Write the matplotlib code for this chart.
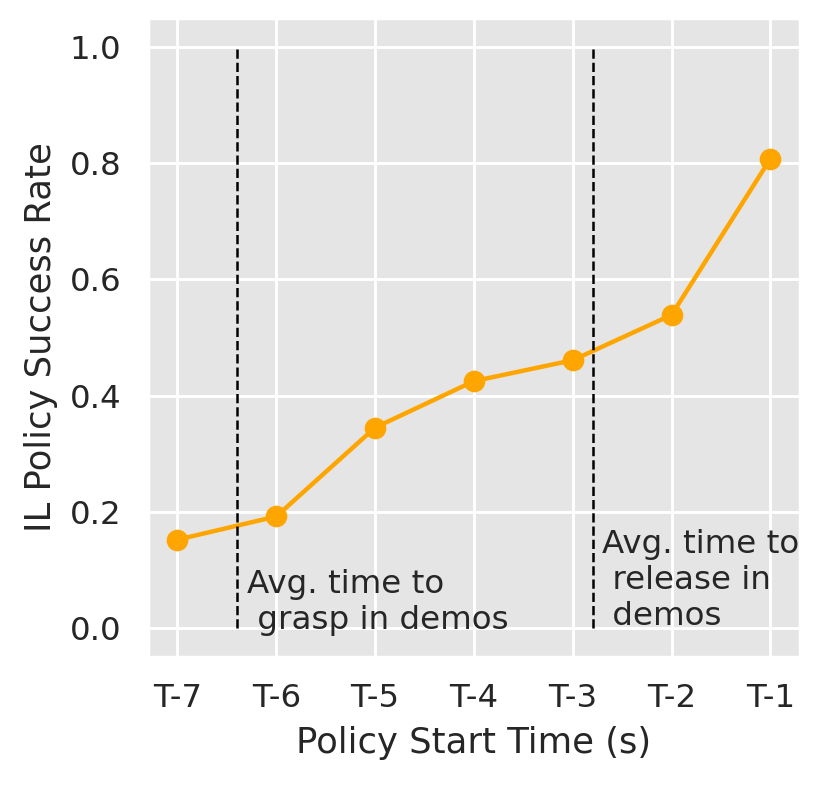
import matplotlib
matplotlib.use("Agg")
import matplotlib.pyplot as plt
import seaborn as sns

# policy start offsets and measured success rates
labels = ["T-7", "T-6", "T-5", "T-4", "T-3", "T-2", "T-1"]
success = [0.152, 0.192, 0.345, 0.425, 0.461, 0.539, 0.808]

# average event times in demos (in tick-index units)
grasp_time = 0.6
release_time = 4.2

sns.set_theme(context="notebook", style="darkgrid", font_scale=1.06)
plt.rcParams["font.family"] = ["DejaVu Sans"]

fig = plt.figure(figsize=(4.15, 3.925), dpi=200)
ax = fig.add_axes([0.178, 0.163, 0.786, 0.814])
ax.set_facecolor("#E5E5E5")
ax.grid(color="white", linewidth=1.05)

x = list(range(len(labels)))
ax.plot(x, success, color="orange", marker="o", markersize=6.8, linewidth=1.6)

ax.vlines(grasp_time, 0, 1, colors="black", linestyles="--", linewidth=0.9)
ax.vlines(release_time, 0, 1, colors="black", linestyles="--", linewidth=0.9)

ax.text(grasp_time + 0.1, -0.014, "Avg. time to\n grasp in demos",
        fontsize=11.7, color="#262626", va="bottom", ha="left")
ax.text(release_time + 0.1, -0.007, "Avg. time to\n release in\n demos",
        fontsize=11.7, color="#262626", va="bottom", ha="left")

ax.set_xticks(x)
ax.set_xticklabels(labels)
ax.set_yticks([0.0, 0.2, 0.4, 0.6, 0.8, 1.0])
ax.set_xlabel("Policy Start Time (s)")
ax.set_ylabel("IL Policy Success Rate")

fig.savefig("out.png", dpi=200)
